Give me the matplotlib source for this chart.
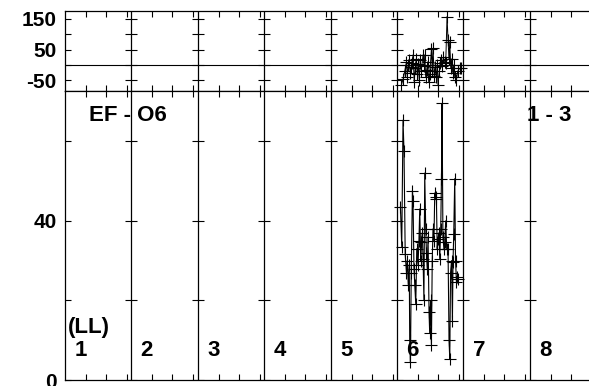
import numpy as np
import matplotlib
matplotlib.use("Agg")
import matplotlib.pyplot as plt

plt.rcParams['font.family'] = ['Liberation Sans', 'DejaVu Sans']
plt.rcParams['font.weight'] = 'bold'

# segment labels along the x axis (one per LL band)
seg_labels = ['1', '2', '3', '4', '5', '6', '7', '8']
panel_title = 'EF - O6'
panel_range = '1 - 3'
axis_tag = '(LL)'

# upper panel series (only present in band 6)
top_x = [5.066, 5.093, 5.116, 5.142, 5.154, 5.169, 5.184, 5.199, 5.214, 5.229,
         5.241, 5.259, 5.274, 5.289, 5.304, 5.319, 5.334, 5.349, 5.364, 5.392,
         5.410, 5.417, 5.432, 5.447, 5.462, 5.477, 5.492, 5.518, 5.530, 5.542,
         5.560, 5.575, 5.590, 5.605, 5.617, 5.636, 5.651, 5.666, 5.681, 5.696,
         5.718, 5.733, 5.753, 5.768, 5.782, 5.794, 5.809, 5.824, 5.839, 5.854,
         5.869, 5.895, 5.914, 5.944, 5.970]
top_y = [-65, -45, -20, 11, -38, 0, 15, -25, -8, 5,
         33, -55, -10, 20, -30, 2, -48, 15, -20, 33,
         -5, 33, -40, -15, 10, -55, -30, 51, -20, 54,
         -35, -8, -40, 0, -65, -20, 8, 15, -5, 25,
         11, 5, 158, 82, 20, 76, -10, 20, -25, 0,
         -40, -49, -20, -11, -11]

# lower panel series
bot_x = [5.051, 5.071, 5.090, 5.105, 5.123, 5.142, 5.154, 5.169, 5.184, 5.191,
         5.202, 5.214, 5.232, 5.241, 5.255, 5.267, 5.282, 5.297, 5.316, 5.330,
         5.342, 5.357, 5.367, 5.380, 5.392, 5.405, 5.417, 5.432, 5.443, 5.455,
         5.467, 5.482, 5.492, 5.505, 5.518, 5.530, 5.542, 5.556, 5.568, 5.580,
         5.593, 5.605, 5.617, 5.631, 5.643, 5.658, 5.669, 5.678, 5.691, 5.706,
         5.718, 5.733, 5.748, 5.768, 5.783, 5.794, 5.806, 5.821, 5.834, 5.843,
         5.854, 5.869, 5.881, 5.895, 5.907, 5.919]
bot_y = [43.5, 33.5, 65.3, 57.5, 31.6, 27, 30, 24, 29, 10,
         4.5, 27, 47.6, 45, 28, 24, 19, 33, 29, 35,
         43, 30, 34.7, 37, 30.5, 20, 52, 38, 31.8, 28,
         36, 17, 11.7, 20, 8.9, 30, 38, 35, 47, 46,
         45.6, 33, 35.5, 37, 30.5, 38, 50.6, 69.5, 36, 33,
         34.7, 40, 33, 33, 10, 5.4, 27, 30, 14.8, 29.7,
         36.8, 50.6, 30, 24.7, 26, 25.3]

top_ticks = [-50, 0, 50, 100, 150]
top_ticklabels = ['-50', '', '50', '', '150']
bot_ticks = [0, 20, 40, 60]
bot_ticklabels = ['0', '', '40', '']

fig = plt.figure(figsize=(5.89, 3.86), dpi=100)
ax_top = fig.add_axes([0.1104, 0.765, 0.9019, 0.2073])
ax_bot = fig.add_axes([0.1104, 0.0155, 0.9019, 0.7495])

nseg = len(seg_labels)
minor = [k + f for k in range(nseg) for f in (0.316, 0.617, 0.934)]

for ax, ticks, labels, ylim in ((ax_top, top_ticks, top_ticklabels, (-84, 177)),
                                (ax_bot, bot_ticks, bot_ticklabels, (0, 72.7))):
    ax.set_xlim(0, nseg)
    ax.set_ylim(*ylim)
    ax.set_xticks(minor)
    ax.set_xticklabels([])
    ax.set_yticks(ticks)
    ax.set_yticklabels(labels)
    ax.tick_params(axis='x', direction='in', length=4, width=0.8, top=True, bottom=True)
    ax.tick_params(axis='y', direction='in', length=4.5, width=0.8, labelsize=15, pad=6)
    for lab in ax.get_yticklabels():
        lab.set_fontweight('bold')
    for s in ax.spines.values():
        s.set_linewidth(0.9)
    for k in range(1, nseg):
        ax.axvline(k, color='black', lw=0.9)
        ax.plot([k] * len(ticks), ticks, ls='none', marker='_', ms=8, mew=0.8, color='black')

ax_top.axhline(0, color='black', lw=0.8)
ax_top.plot(top_x, top_y, color='black', lw=0.7, marker='+', ms=8, mew=0.8)
ax_bot.plot(bot_x, bot_y, color='black', lw=0.8, marker='+', ms=8, mew=0.8)

ax_bot.text(0.36, 66.4, panel_title, fontsize=16, fontweight='bold', va='center', ha='left')
ax_bot.text(6.96, 66.4, panel_range, fontsize=16, fontweight='bold', va='center', ha='left')
ax_bot.text(0.05, 13.1, axis_tag, fontsize=16, fontweight='bold', va='center', ha='left')
for k, lab in enumerate(seg_labels):
    ax_bot.text(k + 0.14, 7.5, lab, fontsize=16, fontweight='bold', va='center', ha='left')

fig.savefig('out.png', dpi=100)
